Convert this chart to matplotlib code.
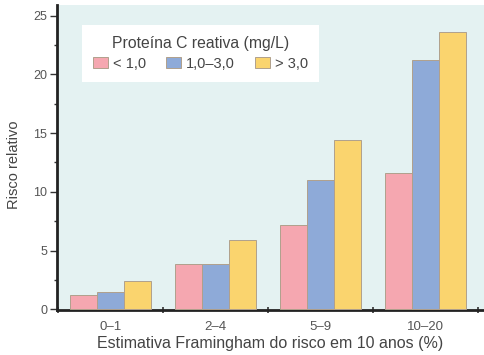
import matplotlib.pyplot as plt
import numpy as np
from matplotlib.ticker import MultipleLocator

plt.rcParams['font.family'] = ['Liberation Sans', 'DejaVu Sans']

# Data
groups = ['0\u20131', '2\u20134', '5\u20139', '10\u201320']
series = ['< 1,0', '1,0\u20133,0', '> 3,0']
low_crp = [1.2, 3.9, 7.2, 11.6]
mid_crp = [1.5, 3.9, 11.0, 21.2]
high_crp = [2.4, 5.9, 14.4, 23.6]

cols = ['#f5a7b0', '#8eaad8', '#fad46e']
txt = '#555555'

fig = plt.figure(figsize=(4.84, 3.55), dpi=100)
ax = fig.add_axes([57 / 484, 45 / 355, 427 / 484, 305 / 355])
ax.set_facecolor('#e4f2f2')

x = np.arange(len(groups))
w = 0.255
for k, (vals, lab) in enumerate(zip([low_crp, mid_crp, high_crp], series)):
    ax.bar(x + (k - 1) * w, vals, w, color=cols[k], edgecolor='#b0a08c',
           lw=0.7, label=lab, zorder=3)

ax.set_xlim(-0.51, 3.557)
ax.set_ylim(-0.05, 25.9)

# boundary ticks on x, labels at group centres
ax.set_xticks(np.arange(-0.5, 4, 1))
ax.set_xticklabels([])
ax.set_xticks(x, minor=True)
ax.set_xticklabels(groups, minor=True)
ax.tick_params(axis='x', which='major', length=5, width=1.2, direction='inout', color='#333333')
ax.tick_params(axis='x', which='minor', length=0, pad=8, labelsize=9.5, labelcolor=txt)

ax.yaxis.set_major_locator(MultipleLocator(5))
ax.yaxis.set_minor_locator(MultipleLocator(2.5))
ax.tick_params(axis='y', which='major', length=5, width=1.0, color='#333333',
               labelsize=9, labelcolor=txt, pad=2)
ax.tick_params(axis='y', which='minor', length=2.5, width=1.0, color='#333333')

for s in ['top', 'right']:
    ax.spines[s].set_visible(False)
for s in ['left', 'bottom']:
    ax.spines[s].set_linewidth(2)
    ax.spines[s].set_color('#222222')

ax.set_ylabel('Risco relativo', fontsize=10.5, color='#444444')
ax.yaxis.set_label_coords(-0.084, 0.475)
ax.set_xlabel('Estimativa Framingham do risco em 10 anos (%)', fontsize=11.5,
              color='#444444', labelpad=2)

leg = ax.legend(ncol=3, loc='upper left', bbox_to_anchor=(0.0585, 0.934),
                title='Prote\u00edna C reativa (mg/L)', fontsize=10.5,
                title_fontsize=11.3, frameon=True, fancybox=False,
                handlelength=1.05, handleheight=0.75, handletextpad=0.3,
                columnspacing=1.4, borderpad=0.75, labelspacing=0.4,
                borderaxespad=0)
leg.get_frame().set_edgecolor('none')
leg.get_frame().set_facecolor('white')
leg.get_frame().set_alpha(1)
leg.get_title().set_color('#444444')
for t in leg.get_texts():
    t.set_color('#444444')

fig.savefig('out.png', dpi=100)
